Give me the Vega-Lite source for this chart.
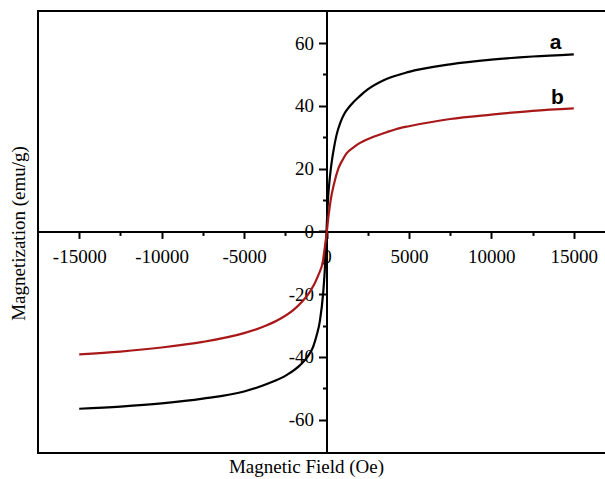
{
  "$schema": "https://vega.github.io/schema/vega-lite/v6.json",
  "autosize": {"type": "none"},
  "width": 577,
  "height": 442,
  "padding": {"left": 38, "top": 11, "right": 0, "bottom": 26},
  "background": "white",
  "config": {
    "view": {"stroke": "black", "strokeWidth": 2},
    "axis": {
      "labelFont": "Liberation Serif",
      "titleFont": "Liberation Serif",
      "labelColor": "black",
      "titleColor": "black",
      "domainColor": "black",
      "tickColor": "black",
      "grid": false,
      "titleFontWeight": "normal"
    }
  },
  "datasets": {
    "curves": [
      {"sample": "a", "H": -15000, "M": -56.5},
      {"sample": "a", "H": -12500, "M": -55.8},
      {"sample": "a", "H": -10000, "M": -54.8},
      {"sample": "a", "H": -7500, "M": -53.3},
      {"sample": "a", "H": -5000, "M": -51.0},
      {"sample": "a", "H": -3500, "M": -48.4},
      {"sample": "a", "H": -2400, "M": -45.7},
      {"sample": "a", "H": -1600, "M": -42.6},
      {"sample": "a", "H": -1100, "M": -39.6},
      {"sample": "a", "H": -800, "M": -36.6},
      {"sample": "a", "H": -600, "M": -33.2},
      {"sample": "a", "H": -400, "M": -28.5},
      {"sample": "a", "H": -200, "M": -19.5},
      {"sample": "a", "H": -100, "M": -12.0},
      {"sample": "a", "H": -50, "M": -6.5},
      {"sample": "a", "H": 0, "M": 0},
      {"sample": "a", "H": 50, "M": 6.0},
      {"sample": "a", "H": 100, "M": 11.0},
      {"sample": "a", "H": 200, "M": 17.0},
      {"sample": "a", "H": 300, "M": 21.5},
      {"sample": "a", "H": 450, "M": 26.5},
      {"sample": "a", "H": 600, "M": 30.5},
      {"sample": "a", "H": 850, "M": 34.8},
      {"sample": "a", "H": 1100, "M": 37.6},
      {"sample": "a", "H": 1450, "M": 40.1},
      {"sample": "a", "H": 2000, "M": 43.0},
      {"sample": "a", "H": 2500, "M": 45.2},
      {"sample": "a", "H": 3500, "M": 48.2},
      {"sample": "a", "H": 5000, "M": 50.8},
      {"sample": "a", "H": 7500, "M": 53.2},
      {"sample": "a", "H": 10000, "M": 54.7},
      {"sample": "a", "H": 12500, "M": 55.7},
      {"sample": "a", "H": 15000, "M": 56.4},
      {"sample": "b", "H": -15000, "M": -39.2},
      {"sample": "b", "H": -12500, "M": -38.3},
      {"sample": "b", "H": -10000, "M": -37.0},
      {"sample": "b", "H": -7500, "M": -35.2},
      {"sample": "b", "H": -5000, "M": -32.4},
      {"sample": "b", "H": -4000, "M": -30.7},
      {"sample": "b", "H": -3000, "M": -28.4},
      {"sample": "b", "H": -2000, "M": -25.0},
      {"sample": "b", "H": -1500, "M": -22.5},
      {"sample": "b", "H": -1000, "M": -19.2},
      {"sample": "b", "H": -500, "M": -14.0},
      {"sample": "b", "H": -200, "M": -9.0},
      {"sample": "b", "H": -100, "M": -5.0},
      {"sample": "b", "H": 0, "M": -1.0},
      {"sample": "b", "H": 125, "M": 5.0},
      {"sample": "b", "H": 255, "M": 10.0},
      {"sample": "b", "H": 450, "M": 15.0},
      {"sample": "b", "H": 716, "M": 20.0},
      {"sample": "b", "H": 1000, "M": 23.0},
      {"sample": "b", "H": 1225, "M": 24.9},
      {"sample": "b", "H": 1600, "M": 26.6},
      {"sample": "b", "H": 1911, "M": 27.8},
      {"sample": "b", "H": 2742, "M": 29.9},
      {"sample": "b", "H": 3652, "M": 31.6},
      {"sample": "b", "H": 4458, "M": 32.9},
      {"sample": "b", "H": 5000, "M": 33.5},
      {"sample": "b", "H": 7500, "M": 35.8},
      {"sample": "b", "H": 10000, "M": 37.2},
      {"sample": "b", "H": 12500, "M": 38.4},
      {"sample": "b", "H": 15000, "M": 39.2}
    ],
    "labels": [
      {"label": "a", "H": 13900, "M": 58.2},
      {"label": "b", "H": 14000, "M": 40.5}
    ]
  },
  "layer": [
    {
      "data": {"name": "curves"},
      "mark": {"type": "line", "strokeWidth": 2.2, "interpolate": "monotone"},
      "encoding": {
        "x": {
          "field": "H",
          "type": "quantitative",
          "scale": {"domain": [-17500, 17500], "nice": false, "zero": false},
          "axis": {
            "orient": "bottom",
            "offset": -221.6,
            "values": [-15000, -10000, -5000, 0, 5000, 10000, 15000],
            "labelExpr": "'' + datum.value",
            "labelFontSize": 19,
            "tickSize": 7,
            "tickWidth": 2,
            "domainWidth": 2,
            "labelPadding": 9,
            "labelFlush": false,
            "labelOverlap": false,
            "title": "Magnetic Field (Oe)",
            "titleFontSize": 19,
            "titleX": 268,
            "titleY": 235,
            "titleBaseline": "middle",
            "titleAlign": "center"
          }
        },
        "y": {
          "field": "M",
          "type": "quantitative",
          "scale": {"domain": [-70.6, 70.2], "nice": false, "zero": false},
          "axis": {
            "orient": "left",
            "offset": -288.5,
            "values": [-60, -40, -20, 0, 20, 40, 60],
            "labelExpr": "'' + datum.value",
            "labelFontSize": 19,
            "tickSize": 8,
            "tickWidth": 2,
            "domainWidth": 2,
            "labelPadding": 5,
            "labelFlush": false,
            "labelOverlap": false,
            "title": "Magnetization (emu/g)",
            "titleFontSize": 19,
            "titleX": -308.5,
            "titleY": 222,
            "titleBaseline": "middle",
            "titleAlign": "center",
            "titleAngle": -90
          }
        },
        "color": {
          "field": "sample",
          "type": "nominal",
          "scale": {"domain": ["a", "b"], "range": ["#000000", "#a81818"]},
          "legend": null
        }
      }
    },
    {
      "data": {"name": "labels"},
      "mark": {
        "type": "text",
        "font": "Liberation Sans",
        "fontWeight": "bold",
        "fontSize": 21,
        "baseline": "alphabetic",
        "align": "center",
        "color": "black"
      },
      "encoding": {
        "x": {
          "field": "H",
          "type": "quantitative",
          "axis": {
            "orient": "bottom",
            "offset": -221.6,
            "values": [-12500, -7500, -2500, 2500, 7500, 12500],
            "labels": false,
            "domain": false,
            "tickSize": 4,
            "tickWidth": 2,
            "title": null
          }
        },
        "y": {
          "field": "M",
          "type": "quantitative",
          "axis": {
            "orient": "left",
            "offset": -288.5,
            "values": [-50, -30, -10, 10, 30, 50],
            "labels": false,
            "domain": false,
            "tickSize": 4,
            "tickWidth": 2,
            "title": null
          }
        },
        "text": {"field": "label"}
      }
    }
  ],
  "resolve": {"axis": {"x": "independent", "y": "independent"}}
}
